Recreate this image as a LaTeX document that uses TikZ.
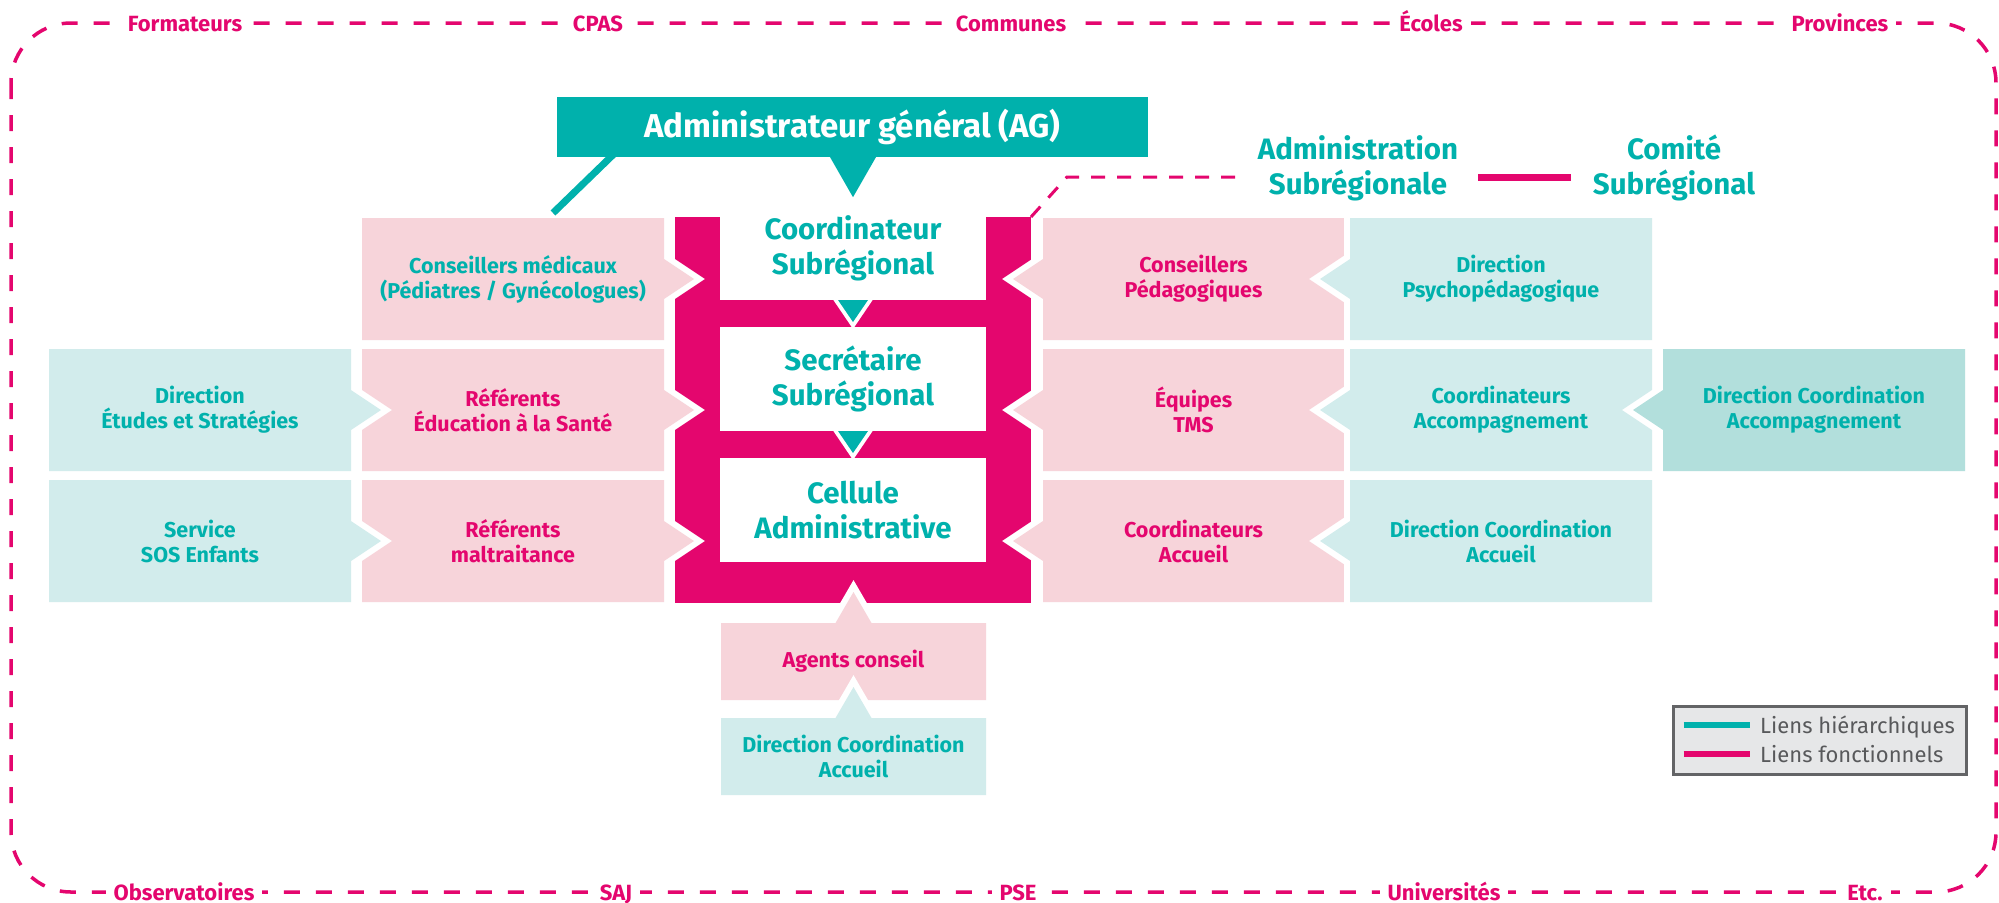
\documentclass[tikz,border=0pt]{standalone}
\usepackage{fontspec}
\setmainfont{Fira Sans}
\usetikzlibrary{calc}
\definecolor{tealc}{HTML}{00B1AC}
\definecolor{magc}{HTML}{E4066E}
\definecolor{pinkf}{HTML}{F7D4DA}
\definecolor{tealf}{HTML}{D2ECEC}
\definecolor{tealg}{HTML}{B2DFDC}
\definecolor{legf}{HTML}{E6E7E8}
\definecolor{legd}{HTML}{636466}
\definecolor{legt}{HTML}{58595B}
\tikzset{
 btxt/.style={font=\bfseries\fontsize{21.5}{25}\selectfont, align=center, inner sep=0pt},
 ctxt/.style={font=\bfseries\fontsize{29.5}{35}\selectfont, align=center, inner sep=0pt, text=tealc},
 blbl/.style={font=\bfseries\fontsize{22}{24}\selectfont, text=magc, fill=white, inner xsep=8pt, inner ysep=3pt, anchor=base},
 wout/.style={draw=white, fill=white, line width=12pt, line join=miter, miter limit=20},
}
% box with arrow to the right
\newcommand\boxR[8]{%
 \pgfmathsetmacro\cy{(#3+#5)/2}\pgfmathsetmacro\cx{(#2+#4)/2}%
 \path[wout] (#2,#3) -- (#4,#3) -- (#4,{\cy-20}) -- ({#4+30},\cy) -- (#4,{\cy+20}) -- (#4,#5) -- (#2,#5) -- cycle;
 \path[fill=#6] (#2,#3) -- (#4,#3) -- (#4,{\cy-20}) -- ({#4+30},\cy) -- (#4,{\cy+20}) -- (#4,#5) -- (#2,#5) -- cycle;
 \node[btxt, text=#7] (#1) at (\cx,\cy) {#8};}
% box with arrow to the left
\newcommand\boxL[8]{%
 \pgfmathsetmacro\cy{(#3+#5)/2}\pgfmathsetmacro\cx{(#2+#4)/2}%
 \path[wout] (#2,#3) -- (#4,#3) -- (#4,#5) -- (#2,#5) -- (#2,{\cy+20}) -- ({#2-30},\cy) -- (#2,{\cy-20}) -- cycle;
 \path[fill=#6] (#2,#3) -- (#4,#3) -- (#4,#5) -- (#2,#5) -- (#2,{\cy+20}) -- ({#2-30},\cy) -- (#2,{\cy-20}) -- cycle;
 \node[btxt, text=#7] (#1) at (\cx,\cy) {#8};}
% box with arrow upwards
\newcommand\boxU[8]{%
 \pgfmathsetmacro\cy{(#3+#5)/2}\pgfmathsetmacro\cx{(#2+#4)/2}%
 \path[wout] (#2,#3) -- ({\cx-18},#3) -- (\cx,{#3-31}) -- ({\cx+18},#3) -- (#4,#3) -- (#4,#5) -- (#2,#5) -- cycle;
 \path[fill=#6] (#2,#3) -- ({\cx-18},#3) -- (\cx,{#3-31}) -- ({\cx+18},#3) -- (#4,#3) -- (#4,#5) -- (#2,#5) -- cycle;
 \node[btxt, text=#7] (#1) at (\cx,\cy) {#8};}

\begin{document}
\begin{tikzpicture}[x=1pt,y=-1pt]
\useasboundingbox (0,0) rectangle (1999,902);

% central frame
\fill[magc] (675,217) rectangle (1031,603);
\fill[white] (720,217) rectangle (986,300);
\fill[white] (720,327) rectangle (986,431);
\fill[white] (720,458) rectangle (986,562);
\fill[white] (832,298) -- (874,298) -- (853,329) -- cycle;
\fill[tealc] (838,300) -- (868,300) -- (853,322) -- cycle;
\fill[white] (832,429) -- (874,429) -- (853,460) -- cycle;
\fill[tealc] (838,431) -- (868,431) -- (853,453) -- cycle;
\node[ctxt] (coord) at (853,248) {Coordinateur\\Subrégional};
\node[ctxt] (secr) at (853,379) {Secrétaire\\Subrégional};
\node[ctxt] (cell) at (853,510) {Cellule\\Administrative};

% left side
\boxR{cm}{362}{218}{664}{340}{pinkf}{tealc}{Conseillers médicaux\\(Pédiatres / Gynécologues)}
\boxR{res}{362}{349}{664}{471}{pinkf}{magc}{Référents\\Éducation à la Santé}
\boxR{rm}{362}{480}{664}{602}{pinkf}{magc}{Référents\\maltraitance}
\boxR{des}{49}{349}{351}{471}{tealf}{tealc}{Direction\\Études et Stratégies}
\boxR{sos}{49}{480}{351}{602}{tealf}{tealc}{Service\\SOS Enfants}

% right side
\boxL{cp}{1043}{218}{1344}{340}{pinkf}{magc}{Conseillers\\Pédagogiques}
\boxL{eq}{1043}{349}{1344}{471}{pinkf}{magc}{Équipes\\TMS}
\boxL{cac}{1043}{480}{1344}{602}{pinkf}{magc}{Coordinateurs\\Accueil}
\boxL{dp}{1350}{218}{1652}{340}{tealf}{tealc}{Direction\\Psychopédagogique}
\boxL{ca}{1350}{349}{1652}{471}{tealf}{tealc}{Coordinateurs\\Accompagnement}
\boxL{dcr}{1350}{480}{1652}{602}{tealf}{tealc}{Direction Coordination\\Accueil}
\boxL{dca}{1663}{349}{1965}{471}{tealg}{tealc}{Direction Coordination\\Accompagnement}

% bottom
\boxU{agc}{721}{623}{986}{700}{pinkf}{magc}{Agents conseil}
\boxU{dcb}{721}{718}{986}{795}{tealf}{tealc}{Direction Coordination\\Accueil}

% administrateur general
\coordinate (cmtop) at (553,213);
\draw[tealc, line width=7pt] (618,150) -- (cmtop);
\node[fill=tealc, text=white, minimum width=591pt, minimum height=60pt, inner sep=0pt,
      font=\bfseries\fontsize{33}{38}\selectfont] (ag) at (852.5,127) {Administrateur général (AG)};
\fill[tealc] ($(ag.south)+(-23,-1)$) -- ($(ag.south)+(24,-1)$) -- ($(ag.south)+(0.5,40)$) -- cycle;

% administration / comite
\node[ctxt] (adm) at (1358,168) {Administration\\Subrégionale};
\node[ctxt] (com) at (1674,168) {Comité\\Subrégional};
\draw[magc, line width=7pt] ($(adm.east)+(20,9)$) -- ($(com.west)+(-22,9)$);
\coordinate (fr) at (1031,217);
\draw[magc, line width=3pt, dash pattern=on 14pt off 12pt] (fr) -- (1067,177) -- ($(adm.west)+(-20,9)$);

% legend
\node[draw=legd, fill=legf, line width=3pt, minimum width=293pt, minimum height=68pt, inner sep=0pt] (leg) at (1819.5,740) {};
\draw[tealc, line width=6pt] ($(leg.west)+(12,-15)$) -- ++(66,0);
\draw[magc, line width=6pt] ($(leg.west)+(12,14)$) -- ++(66,0);
\node[anchor=base west, text=legt, font=\fontsize{22}{24}\selectfont, inner sep=0pt] (l1) at (1760,733) {Liens hiérarchiques};
\node[anchor=base west, text=legt, font=\fontsize{22}{24}\selectfont, inner sep=0pt] (l2) at (1760,762) {Liens fonctionnels};

% dashed outer border
\draw[magc, line width=3.5pt, dash pattern=on 16pt off 16pt, rounded corners=60pt] (11,23) rectangle (1996,892);
\node[blbl] (t1) at (185,31) {Formateurs};
\node[blbl] (t2) at (598,31) {CPAS};
\node[blbl] (t3) at (1011,31) {Communes};
\node[blbl] (t4) at (1431,31) {Écoles};
\node[blbl] (t5) at (1840,31) {Provinces};
\node[blbl] (b1) at (184,900) {Observatoires};
\node[blbl] (b2) at (616,900) {SAJ};
\node[blbl] (b3) at (1018,900) {PSE};
\node[blbl] (b4) at (1444,900) {Universités};
\node[blbl] (b5) at (1865,900) {Etc.};
\end{tikzpicture}
\end{document}
